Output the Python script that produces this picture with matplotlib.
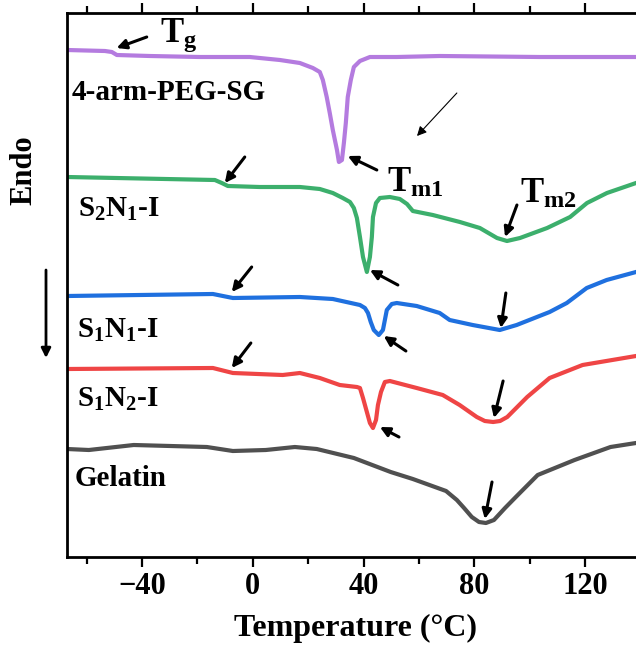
import matplotlib
matplotlib.use("Agg")
import matplotlib.pyplot as plt
from matplotlib.ticker import MultipleLocator

plt.rcParams['font.family'] = ['Liberation Serif', 'DejaVu Serif']
plt.rcParams['font.weight'] = 'bold'
plt.rcParams['mathtext.fontset'] = 'custom'
plt.rcParams['mathtext.rm'] = 'Liberation Serif:bold'
plt.rcParams['mathtext.bf'] = 'Liberation Serif:bold'
plt.rcParams['mathtext.it'] = 'Liberation Serif:bold'
plt.rcParams['mathtext.default'] = 'bf'
plt.rcParams['axes.unicode_minus'] = True

# ---- data (temperature in °C, heat flow in arbitrary offset units) ----
peg_T = [-67.1, -53.4, -50.9, -49.1, -37.2, -19.1, -1.1, 9.8, 17.0, 21.7, 24.2,
         25.3, 26.7, 27.8, 28.9, 30.4, 31.1, 32.2, 32.9, 33.6, 34.3, 35.4, 36.5,
         38.7, 42.3, 52.0, 67.5, 103.6, 138.4]
peg_y = [507, 506, 505, 502, 501, 500, 500, 497, 494, 489, 485,
         477, 460, 444, 427, 407, 395, 397, 414, 434, 460, 477, 490,
         496, 500, 500, 501, 500, 500]

s2n1_T = [-67.1, -13.7, -11.2, -9.0, 2.5, 17.0, 24.2, 28.9, 32.5, 35.1, 36.5, 37.6,
          38.7, 39.8, 41.2, 42.3, 43.0, 43.4, 44.5, 45.9, 49.5, 53.1, 55.7, 57.8,
          61.4, 65.0, 74.8, 82.0, 88.2, 91.8, 96.5, 106.3, 114.6, 120.7, 127.9, 138.4]
s2n1_y = [380, 377, 374, 371, 370, 370, 368, 364, 359, 355, 349, 339,
          320, 300, 285, 300, 320, 340, 354, 359, 360, 358, 353, 346,
          344, 342, 335, 329, 319, 316, 319, 329, 340, 354, 364, 374]

s1n1_T = [-67.1, -14.4, -7.2, 17.0, 28.9, 38.7, 40.5, 41.6, 42.6, 43.7, 45.5, 47.0,
          47.7, 48.4, 50.2, 52.0, 59.2, 67.5, 71.1, 79.4, 89.2, 95.3, 107.2, 113.4,
          120.6, 127.8, 138.4]
s1n1_y = [261, 263, 259, 260, 258, 252, 249, 244, 235, 227, 222, 227,
          237, 247, 253, 254, 251, 244, 237, 232, 227, 232, 245, 254,
          269, 277, 285]

s1n2_T = [-67.1, -14.4, -7.2, 10.8, 17.0, 24.2, 31.4, 37.6, 38.7, 39.8, 41.2, 42.3,
          43.4, 44.5, 45.2, 46.3, 47.7, 49.5, 59.2, 68.6, 74.7, 80.9, 83.8, 86.8,
          89.3, 91.9, 95.5, 99.1, 107.2, 119.1, 138.4]
s1n2_y = [188, 189, 184, 182, 184, 179, 172, 170, 169, 159, 145, 134,
          129, 137, 152, 165, 175, 176, 169, 162, 152, 140, 136, 135,
          136, 140, 150, 160, 179, 192, 201]

gel_T = [-67.1, -59.2, -43.0, -16.6, -7.2, 4.7, 15.2, 23.1, 36.5, 49.8, 57.8, 69.8,
         73.7, 76.3, 79.1, 81.7, 84.2, 87.1, 91.1, 95.0, 102.9, 116.2, 129.2, 138.4]
gel_y = [108, 107, 112, 110, 106, 107, 110, 108, 99, 85, 78, 66,
         57, 49, 40, 35, 34, 37, 49, 60, 82, 97, 110, 114]

xticks = [-40, 0, 40, 80, 120]

fig = plt.figure(figsize=(6.36, 6.45), dpi=100)
ax = fig.add_axes([67/636, 88/645, 1 - 67/636, 544/645])

lw = 3.0
ax.plot(peg_T, peg_y, color='#B47BDF', lw=lw, solid_joinstyle='round')
ax.plot(s2n1_T, s2n1_y, color='#3CAF6C', lw=lw, solid_joinstyle='round')
ax.plot(s1n1_T, s1n1_y, color='#1F70DF', lw=lw, solid_joinstyle='round')
ax.plot(s1n2_T, s1n2_y, color='#EF4545', lw=lw, solid_joinstyle='round')
ax.plot(gel_T, gel_y, color='#505050', lw=lw, solid_joinstyle='round')

ax.set_xlim(-67.1, 138.4)
ax.set_ylim(0, 544)
ax.set_xticks(xticks)
ax.xaxis.set_minor_locator(MultipleLocator(20))
ax.set_yticks([])
ax.tick_params(axis='x', which='major', direction='out', length=7, width=1.6,
               labelsize=22, pad=4, top=True)
ax.tick_params(axis='x', which='minor', direction='out', length=5, width=1.6, top=True)
for lab in ax.get_xticklabels():
    lab.set_fontweight('bold')
for s in ['left', 'bottom', 'top']:
    ax.spines[s].set_linewidth(2.0)
ax.spines['right'].set_visible(False)

fs = 21
ax.text(-65.4, 457, '4-arm-PEG-SG', fontsize=fs, fontweight='bold', ha='left', va='baseline')
ax.text(-63.2, 340, r'$S_2N_1$-I', fontsize=fs, fontweight='bold', ha='left', va='baseline')
ax.text(-63.6, 219, r'$S_1N_1$-I', fontsize=fs, fontweight='bold', ha='left', va='baseline')
ax.text(-63.6, 150, r'$S_1N_2$-I', fontsize=fs, fontweight='bold', ha='left', va='baseline')
ax.text(-64.3, 71, 'Gelatin', fontsize=fs, fontweight='bold', ha='left', va='baseline')

ax.text(-33.6, 515, r'$T_g$', fontsize=25, ha='left', va='baseline')
ax.text(48.4, 365, r'$T_{m1}$', fontsize=25, ha='left', va='baseline')
ax.text(96.5, 354, r'$T_{m2}$', fontsize=25, ha='left', va='baseline')

arrows = [
    ((-38.3, 520), (-49.2, 509)),
    ((44.8, 387), (34.3, 401)),
    ((-2.9, 400), (-10.1, 374)),
    ((52.4, 272), (42.3, 287)),
    ((95.4, 352), (91.1, 320)),
    ((-0.4, 290), (-7.6, 265)),
    ((55.3, 206), (47.3, 221)),
    ((91.4, 264), (89.6, 229)),
    ((-0.7, 214), (-7.6, 189)),
    ((52.8, 120), (45.9, 130)),
    ((90.4, 176), (87.1, 139)),
    ((86.4, 75), (83.8, 38)),
]
for tail, head in arrows:
    ax.annotate('', xy=head, xytext=tail,
                arrowprops=dict(arrowstyle='-|>', color='k', lw=2.2,
                                mutation_scale=14, shrinkA=0, shrinkB=0))
ax.annotate('', xy=(59.3, 421), xytext=(73.7, 464),
            arrowprops=dict(arrowstyle='-|>', color='k', lw=0.8,
                            mutation_scale=14, shrinkA=0, shrinkB=0))

fig.text(24/636, 1 - 170/645, 'Endo', rotation=90, fontsize=22, fontweight='bold',
         ha='center', va='center')
fig.text(355/636, 1 - 628/645, 'Temperature (°C)', fontsize=23, fontweight='bold',
         ha='center', va='center')
ax.annotate('', xy=(46, 645 - 358), xytext=(46, 645 - 270), xycoords='figure pixels',
            textcoords='figure pixels',
            arrowprops=dict(arrowstyle='-|>', color='k', lw=2.0,
                            mutation_scale=14, shrinkA=0, shrinkB=0))

fig.savefig('out.png', dpi=100)
